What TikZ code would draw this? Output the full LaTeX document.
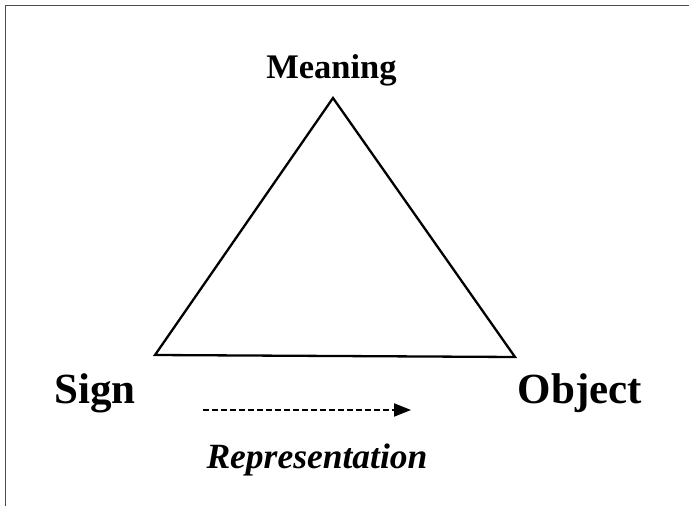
\documentclass[tikz,border=0pt]{standalone}
\usepackage{fontspec}
\setmainfont{Liberation Serif}
\usetikzlibrary{arrows.meta}
\begin{document}
\begin{tikzpicture}[x=1pt,y=-1pt,
  lbl/.style={font=\bfseries\fontsize{43}{50}\selectfont, anchor=base, inner sep=0pt},
  toplbl/.style={font=\bfseries\fontsize{34.5}{40}\selectfont, anchor=base, inner sep=0pt},
  replbl/.style={font=\bfseries\itshape\fontsize{35.5}{42}\selectfont, anchor=base, inner sep=0pt},
  edge/.style={line width=2.3pt, line join=miter},
  frame/.style={line width=1.2pt, black!70}]
\useasboundingbox (0,0) rectangle (689,506);
\coordinate (fa) at (5.5,506);
\coordinate (fb) at (5.5,5.5);
\coordinate (fc) at (689,5.5);
\draw[frame] (fa) -- (fb) -- (fc);
\coordinate (top) at (333,98);
\coordinate (left) at (155,355);
\coordinate (right) at (515,357);
\draw[edge] (top) -- (left) -- (right) -- cycle;
\node[toplbl] (meaning) at (331.5,78) {Meaning};
\node[lbl] (sign) at (95,403) {Sign};
\node[lbl] (object) at (580,403) {Object};
\node[replbl] (rep) at (317,468) {Representation};
\coordinate (as) at (203,410);
\coordinate (ae) at (411,410);
\draw[line width=2pt, dash pattern=on 6pt off 3pt, -{Triangle[length=17pt,width=13pt]}] (as) -- (ae);
\end{tikzpicture}
\end{document}
